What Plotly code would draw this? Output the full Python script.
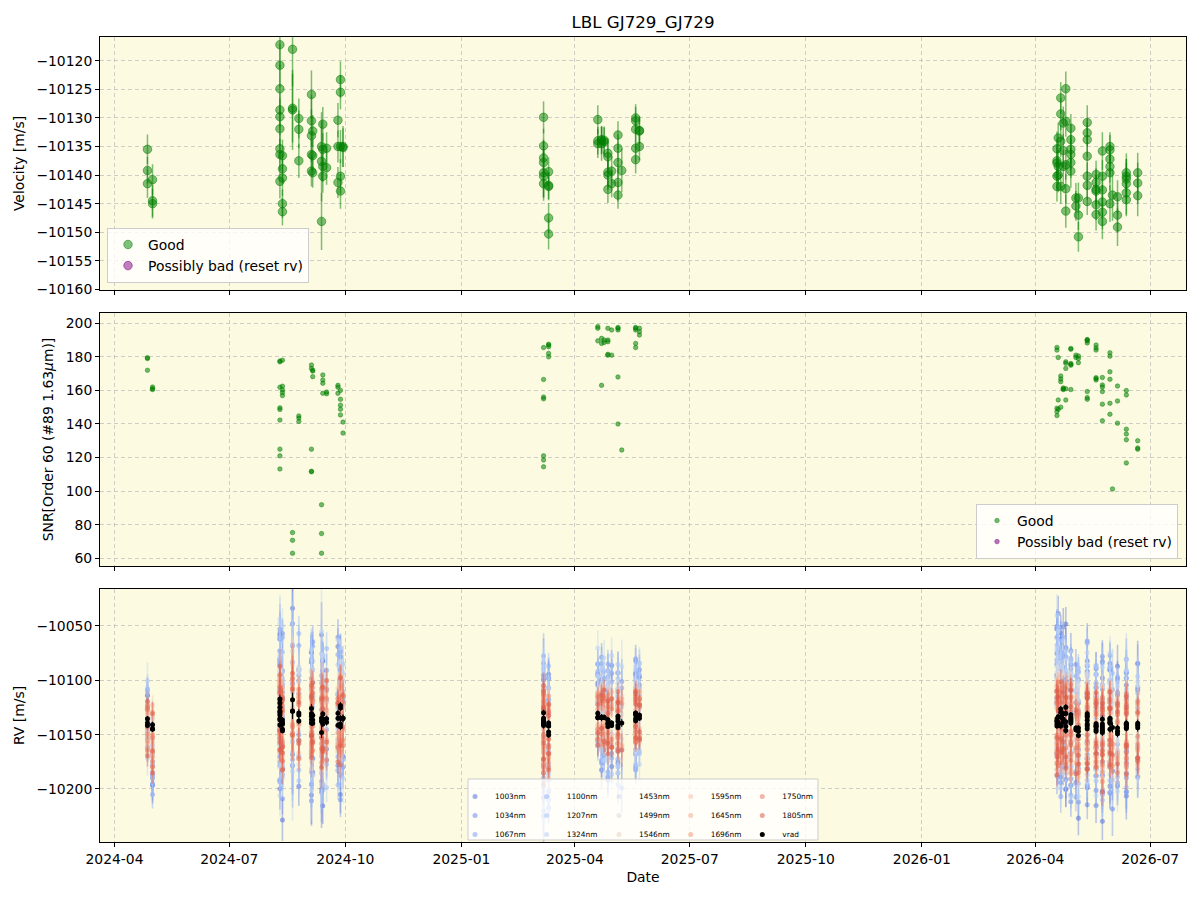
import plotly.graph_objects as go
from plotly.subplots import make_subplots

# ---------------- data ----------------
night_dates = ["2024-04-27", "2024-05-01",
               "2024-08-10", "2024-08-12", "2024-08-20", "2024-08-25", "2024-09-04", "2024-09-05",
               "2024-09-12", "2024-09-13", "2024-09-16", "2024-09-25", "2024-09-27", "2024-09-29",
               "2025-03-07", "2025-03-11",
               "2025-04-19", "2025-04-22", "2025-04-24", "2025-04-27", "2025-04-30", "2025-05-05",
               "2025-05-08", "2025-05-19", "2025-05-22",
               "2026-04-18", "2026-04-19", "2026-04-21", "2026-04-23", "2026-04-25", "2026-04-29",
               "2026-05-03", "2026-05-05", "2026-05-12", "2026-05-19", "2026-05-24", "2026-05-30",
               "2026-06-01", "2026-06-05", "2026-06-12", "2026-06-21"]
night_counts = [3, 3,
                9, 5, 3, 3, 5, 3, 3, 4, 2, 3, 5, 2,
                7, 5,
                3, 3, 2, 5, 2, 5, 1, 5, 3,
                5, 3, 4, 3, 5, 6, 2, 3, 7, 6, 6, 6, 1, 3, 6, 3]

velocity = [
    -10135.5, -10139.2, -10141.5,
    -10140.8, -10144.5, -10145.0,
    -10117.2, -10120.8, -10124.9, -10128.6, -10129.8, -10131.9, -10135.4, -10136.4, -10141.1,
    -10136.6, -10138.9, -10140.5, -10145.0, -10146.4,
    -10118.0, -10128.3, -10128.6,
    -10130.1, -10132.0, -10137.5,
    -10125.9, -10130.5, -10133.1, -10136.4, -10139.3,
    -10132.3, -10136.6, -10139.6,
    -10148.1, -10135.0, -10137.6,
    -10131.1, -10135.5, -10138.5, -10140.2,
    -10135.3, -10138.7,
    -10130.4, -10135.0, -10141.3,
    -10123.3, -10125.5, -10135.0, -10140.2, -10142.8,
    -10135.2, -10135.0,
    -10129.9, -10134.9, -10137.0, -10137.8, -10139.6, -10140.2, -10141.5,
    -10139.4, -10141.8, -10142.0, -10147.5, -10150.3,
    -10130.3, -10134.0, -10134.5,
    -10134.0, -10134.5, -10133.8,
    -10134.2, -10133.9,
    -10136.2, -10136.8, -10139.5, -10140.0, -10142.5,
    -10139.3, -10141.5,
    -10133.0, -10135.3, -10137.8, -10141.3, -10143.5,
    -10139.2,
    -10130.0, -10130.5, -10132.0, -10135.3, -10137.3,
    -10132.3, -10135.0, -10132.2,
    -10135.4, -10137.5, -10137.9, -10140.2, -10142.0,
    -10133.5, -10138.5, -10140.0,
    -10126.5, -10129.3, -10134.1, -10142.0,
    -10130.9, -10135.7, -10138.5,
    -10124.9, -10130.6, -10138.2, -10142.4, -10146.3,
    -10135.5, -10136.4, -10137.8, -10139.3, -10131.8, -10133.8,
    -10144.0, -10145.4,
    -10147.0, -10150.8, -10144.0,
    -10136.7, -10133.8, -10130.8, -10132.6, -10140.2, -10141.8, -10144.6,
    -10145.2, -10146.9, -10142.5, -10141.3, -10139.9, -10142.8,
    -10140.2, -10142.6, -10144.7, -10146.5, -10148.1, -10135.8,
    -10135.0, -10135.6, -10137.2, -10138.5, -10139.6, -10145.0,
    -10143.5,
    -10143.8, -10147.0, -10149.1,
    -10139.6, -10140.7, -10141.5, -10143.1, -10144.3, -10140.2,
    -10139.6, -10141.4, -10143.6]

velocity_err = [
    2.6, 2.4, 2.5,
    2.7, 2.8, 2.6,
    4.0, 3.8, 4.2, 3.0, 3.2, 3.0, 2.6, 2.7, 3.0,
    2.8, 2.6, 3.2, 2.5, 2.4,
    6.5, 6.0, 7.0,
    3.5, 3.3, 3.0,
    4.2, 4.5, 4.6, 2.6, 2.7,
    2.8, 2.7, 2.6,
    5.0, 6.0, 7.0,
    3.0, 2.8, 2.7, 2.9,
    2.8, 3.0,
    3.0, 2.8, 2.7,
    3.2, 3.0, 2.9, 3.0, 3.1,
    3.4, 3.6,
    2.8, 3.0, 3.0, 4.0, 4.2, 4.3, 2.5,
    2.5, 2.4, 2.4, 2.6, 2.7,
    2.5, 2.4, 2.5,
    2.4, 3.0, 2.4,
    2.5, 2.4,
    2.6, 2.5, 2.5, 2.6, 2.4,
    2.6, 2.4,
    2.4, 2.4, 2.8, 3.3, 2.4,
    3.8,
    2.4, 2.4, 2.5, 2.5, 2.4,
    2.4, 2.4, 2.5,
    3.0, 3.0, 3.1, 2.6, 2.6,
    2.7, 2.9, 3.0,
    2.8, 2.8, 2.8, 3.0,
    2.9, 2.9, 2.9,
    3.0, 2.7, 2.6, 2.6, 2.9,
    2.5, 2.7, 2.7, 2.9, 2.5, 2.7,
    2.6, 2.6,
    2.6, 2.6, 2.7,
    2.9, 3.0, 3.0, 2.4, 2.4, 2.5, 2.4,
    2.7, 2.8, 2.5, 2.5, 2.4, 2.8,
    2.8, 2.9, 2.9, 3.0, 3.1, 3.3,
    2.5, 2.6, 2.7, 2.8, 3.1, 3.2,
    4.5,
    2.9, 3.0, 3.3,
    3.4, 3.5, 3.6, 3.8, 2.9, 3.0,
    3.5, 3.6, 3.6]

snr_order60 = [
    179.5, 179.0, 172.0,
    162.0, 160.5, 161.0,
    125.0, 121.0, 113.2, 142.3, 149.6, 148.6, 177.5, 177.0, 161.9,
    160.3, 156.9, 158.7, 178.0, 162.5,
    75.3, 70.7, 63.0,
    144.8, 143.5, 141.5,
    125.0, 111.8, 111.5, 175.1, 173.1,
    171.5, 168.2, 172.0,
    91.9, 74.7, 63.0,
    169.2, 166.2, 164.2, 158.3,
    158.0, 159.0,
    163.0, 161.9, 158.3,
    160.0, 154.7, 151.2, 148.8, 145.4,
    141.1, 134.6,
    166.5, 156.0, 155.0, 121.0, 118.5, 114.5, 185.5,
    182.0, 187.0, 186.0, 180.0, 187.5,
    198.0, 197.0, 189.5,
    188.0, 163.0, 191.0,
    188.5, 190.0,
    181.0, 189.0, 190.0, 181.5, 197.0,
    181.0, 196.0,
    197.0, 196.0, 168.0, 140.0, 197.5,
    124.5,
    197.0, 196.0, 188.0, 185.5, 197.5,
    197.0, 195.0, 193.0,
    149.4, 147.4, 145.0, 185.6, 184.0,
    179.6, 154.3, 148.8,
    168.6, 166.8, 165.2, 150.0,
    160.9, 161.5, 160.5,
    154.3, 173.1, 176.1, 177.0, 161.0,
    185.0, 175.5, 175.0, 160.5, 184.5, 176.0,
    181.0, 179.6,
    180.5, 179.0, 176.5,
    159.3, 155.7, 154.7, 190.3, 190.0, 188.3, 189.5,
    167.6, 166.2, 184.0, 185.3, 187.0, 167.0,
    167.7, 163.2, 162.0, 159.3, 151.8, 141.9,
    182.4, 180.4, 171.1, 166.6, 152.3, 145.8,
    101.3,
    162.6, 153.7, 140.5,
    136.9, 134.0, 130.6, 116.8, 159.9, 157.3,
    130.0, 125.7, 125.0]

bands_nm = [1003, 1034, 1067, 1100, 1207, 1324, 1453, 1499, 1546, 1595, 1645, 1696, 1750, 1805]
band_err_scale = [6.0, 5.5, 5.0, 5.0, 4.5, 6.5, 4.5, 4.0, 3.5, 3.3, 3.3, 3.3, 3.5, 4.0]

# per-band RV offsets from vrad [m/s], one per observation
off_1003 = [22, -8, 15, -38, -52, -45,
            35, 62, -20, 48, -70, 15, -35, 80, -12, -45, 28, -88, 10, 55, 70, -40, 95, -25, 42, -60,
            18, -75, 50, -30, 65, -52, 22, 38, 90, -65, -15, 40, -80, 12, 58, -28, 30, -48, 66, -20,
            45, -10, -70, 25, 52, -35, 15,
            20, -45, 38, -70, 12, -85, 30, 45, -20, -60, 15, 52,
            28, -22, 40, 35, -48, 10, 18, -30, 45, -55, 22, -15, 30, -40, 55, -25, 12, -38, 48, 20,
            -60, 35, -12, 25, 42, -30, 15, 38, -20,
            60, 85, -30, 45, 20, 95, -40, 30, 70, 50, -55, 15, 80, -25, 40, 55, -70, 90, 20, -45,
            35, -60, 65, 10, -35, 48, -50, 25, -80, 30, -20, 45, -65, 20, -40, 58, -15, 30,
            -70, 40, -25, 52, -48, 15, -35, 60, -85, 28, -55, 38, -20, 45, -60, 18, 55, -30,
            -40, 30, -50, 62, -25, 48, -65, 20, 40, -45, 55, -30, 35]
off_1034 = [10, 25, -20, -55, -30, -42,
            -30, 48, 72, -15, 20, -60, 38, -42, 55, 12,
            -70, 25, 88, -35, 15, 60, -50, 30, -18, 42,
            -85, 22, 50, -28, 65, -40, 18, 75, -55, 8,
            35, -65, 45, -22, 58, -38, 20, 70, -48, 28,
            -15, 52, -75, 40, -30, 18, -45,
            -25, 40, -60, 15, 55, -80, -35, 22, -50, 35, -70, 10,
            45, -20, 30, -42, 18, 55, -35, 25, -15, 40,
            -50, 12, 35, -28, 48, -40, 20, 30, -55, 15,
            38, -25, 50, -32, 22, -45, 28, 10, 42,
            75, 40, -50, 90, 25, -35, 65, 15, -20, 55,
            -60, 80, 30, -45, 50, -75, 20, 42, -30, 68,
            -55, 35, -20, 50, -80, 25, -40, 60, -65, 18,
            45, -35, 70, -50, 22, -28, 55, -70, 30, -15,
            48, -60, 25, -38, 62, -45, 15, -55, 40, -25,
            35, -68, 20, 50, -40, 28, -75, 45, -20, 38,
            -50, 60, -30, 25, -58, 42, -22, 35, -45]
off_1067 = [-18, 30, 5, -48, -25, -60,
            55, -25, 40, -65, 18, 70, -40, 28, -12, -50,
            35, 80, -30, 15, -55, 45, -20, 62, -38, 25,
            -70, 50, -15, 38, -45, 20, 68, -32, 12, -58,
            42, -25, 55, -62, 30, -10, 48, -40, 22, 65,
            -28, 35, -52, 18, 40, -35, 25,
            30, -55, 18, -40, 62, -25, 45, -70, 12, -35, 50, -15,
            -30, 42, 15, -25, 50, -40, 22, 35, -18, 28,
            -45, 55, -12, 38, -30, 20, -50, 45, 10, -22,
            32, -38, 48, -15, 25, -42, 36, -20, 18,
            50, -30, 85, 20, 60, -45, 35, 70, -25, 40,
            15, -65, 55, -35, 78, 25, -50, 30, -20, 45,
            -70, 22, 58, -40, 35, -15, 48, -62, 28, -30,
            52, -45, 20, 65, -25, 38, -55, 18, 42, -35,
            -20, 55, -48, 30, -65, 25, 40, -30, 15, -52,
            45, -22, 60, -40, 28, -58, 35, -15, 50, -45,
            22, -35, 48, -60, 30, -25, 55, -40, 18]
off_1100 = [28, -12, 18, -35, -50, -22,
            -42, 60, 20, -30, 45, -15, 52, -55, 30, -20,
            65, -38, 12, 48, -60, 25, -28, 40, 75, -45,
            18, -65, 35, 55, -22, 42, -50, 15, 30, -35,
            -48, 22, 58, -18, 38, -42, 68, -25, 10, -55,
            32, -20, 45, -30, 20, 50, -38,
            -35, 25, 48, -60, 20, -45, 35, -22, 55, -75, 28, -18,
            35, -15, 50, -28, 22, -40, 42, 18, -35, 30,
            12, -48, 38, -20, 55, -30, 25, -42, 15, 45,
            -25, 32, -50, 20, 40, -18, -35, 28, 48,
            40, 70, -25, 55, -40, 82, 30, -15, 48, -55,
            25, 65, -35, 20, 50, -60, 38, -22, 72, -45,
            15, -30, 45, -58, 28, 52, -20, 35, -48, 62,
            -38, 22, 40, -65, 30, -18, 55, -42, 25, 12,
            -50, 35, -28, 48, -15, 58, -40, 20, -62, 32,
            -25, 45, -55, 18, 38, -30, 50, -45, 25, -20,
            42, -58, 30, -35, 52, -22, 28, -48, 35]
off_1207 = [15, -22, 30, -28, -40, -15,
            38, -20, 52, 10, -45, 28, -32, 60, -15, 22,
            -50, 35, -12, 45, 70, -38, 18, -25, 40, -55,
            25, 58, -30, 12, -42, 50, -18, 32, -48, 20,
            62, -35, 15, 40, -22, 28, -60, 45, -10, 30,
            -40, 55, -25, 18, -32, 42, 12,
            22, -38, 45, -15, -52, 30, 18, -40, 35, -25, 50, -60,
            -20, 38, 12, -30, 45, -22, 28, -40, 20, 35,
            -15, 42, -28, 18, -45, 30, 50, -25, 22, -35,
            15, 40, -18, 32, -42, 25, 10, -30, 38,
            55, -20, 65, 30, -35, 48, 75, -15, 40, -28,
            60, 20, -45, 35, -12, 52, -38, 28, 45, -30,
            -55, 30, 18, -40, 48, -22, 35, -50, 20, 58,
            -25, 42, -38, 15, 30, -52, 45, -18, 25, -35,
            40, -28, 52, -45, 22, -15, 38, -58, 30, 12,
            -40, 48, -22, 35, -30, 20, -48, 42, -18, 28,
            -35, 50, -25, 18, -42, 32, -20, 45, -30]
off_1324 = [35, 5, -30, -20, -45, 10,
            70, -35, 25, 85, -50, 40, -20, 55, -65, 30,
            -28, 48, 95, -40, 20, 62, -55, 35, -15, 50,
            -75, 28, 42, -35, 68, -22, 15, -48, 38, 80,
            -30, 55, -60, 25, 45, -38, 20, -52, 72, -18,
            40, -45, 30, 58, -25, 35, -55,
            48, -30, 20, -65, 35, -90, 55, -20, 28, -45, 40, -35,
            60, -25, 38, 45, -30, 20, 55, -40, 28, -18,
            48, -35, 25, 62, -20, 40, -50, 30, 15, -28,
            52, -38, 22, 45, -15, 35, -45, 50, 20,
            95, 45, -30, 70, 25, -50, 60, 85, -20, 40,
            -65, 55, 30, -40, 75, 20, -55, 48, -25, 65,
            -35, 42, -70, 28, 58, -45, 35, 15, -60, 50,
            -28, 62, -42, 30, -18, 55, -50, 38, -35, 22,
            48, -65, 30, -20, 52, -40, 25, -58, 42, -15,
            60, -30, 35, -48, 20, 45, -25, 38, -55, 28,
            -40, 50, -20, 62, -35, 25, -45, 40, -28]
off_1453 = [12, -8, 20, -15, -25, 5,
            25, -18, 35, -10, 15, -30, 22, -5, 40, -22,
            8, -35, 28, -15, 45, -25, 18, -8, 30, -40,
            12, 38, -20, 5, -28, 32, -12, 20, -35, 25,
            -15, 42, -22, 10, -30, 18, 35, -18, 8, -25,
            28, -10, 22, -32, 15, -20, 30,
            -20, 28, -35, 15, -10, 32, -25, 18, -40, 10, 25, -15,
            18, -12, 25, -20, 10, 30, -15, 22, -25, 8,
            15, -28, 20, -10, 32, -18, 12, -22, 28, -8,
            -15, 25, -20, 18, -30, 10, 22, -12, 15,
            35, -20, 50, 15, -30, 28, -12, 40, -25, 20,
            -38, 30, 10, -22, 45, -15, 25, -35, 18, -8,
            32, -28, 12, -40, 22, -18, 35, -10, 28, -32,
            15, -25, 40, -20, 8, -35, 30, -15, 22, -28,
            18, -40, 25, -12, 35, -22, 10, -30, 28, -18,
            20, -35, 15, -25, 32, -10, 22, -38, 18, -15,
            28, -22, 12, -30, 25, -18, 35, -12, 20]
off_1499 = [-10, 15, -22, 8, -18, -30,
            -15, 30, -25, 18, -8, 35, -30, 12, -20, 28,
            -38, 10, 22, -15, 32, -28, 5, 40, -22, 15,
            -32, 25, -10, 20, -42, 18, 30, -18, 8, -25,
            35, -12, 22, -35, 15, -20, 28, -8, -30, 20,
            -18, 32, -25, 12, -15, 38, -22,
            15, -30, 22, -45, 8, -20, 30, -35, 12, -25, 18, -10,
            -12, 20, -18, 28, -8, 15, -25, 22, -15, 30,
            -20, 10, -28, 18, -10, 25, -22, 12, -18, 20,
            8, -25, 15, -12, 28, -20, 10, -15, 22,
            -20, 40, -15, 30, -35, 22, 45, -25, 15, -40,
            28, -10, 35, -30, 18, -22, 8, -45, 25, -15,
            38, -28, 20, -12, 30, -35, 15, -20, 42, -25,
            10, -38, 28, -18, 22, -30, 15, -42, 32, -10,
            25, -28, 18, -35, 12, -20, 30, -15, 22, -40,
            15, -25, 35, -18, 10, -30, 25, -12, 20, -35,
            18, -22, 30, -15, 12, -28, 22, -38, 15]
off_1546 = [5, -20, 12, -28, 10, -15,
            20, -12, 28, -25, 10, -18, 32, -8, 15, -30,
            25, -15, 8, -22, 35, -10, 18, -28, 22, -5,
            -20, 30, -12, 15, -35, 20, -18, 28, -10, 12,
            -25, 18, -30, 22, -8, 35, -15, 10, -22, 28,
            -12, 20, -28, 15, -18, 25, -10,
            -25, 12, -38, 20, -15, 8, -30, 25, -48, 15, -20, 10,
            15, -8, 22, -15, 12, -20, 28, -10, 18, -25,
            10, -18, 25, -12, 20, -8, 15, -22, 12, -15,
            25, -10, 18, -20, 8, -12, 22, -18, 12,
            25, -15, 35, -28, 18, -10, 30, -35, 12, -20,
            -30, 22, -15, 40, -25, 10, -38, 28, -12, 20,
            -22, 15, -45, 25, -18, 32, -8, 20, -30, 15,
            -40, 22, -15, 28, -25, 12, -20, 35, -18, 8,
            -28, 20, -35, 15, -12, 25, -45, 18, -22, 30,
            -15, 10, -32, 22, -25, 18, -10, 28, -20, 12,
            -30, 20, -15, 25, -38, 15, -22, 18, -12]
off_1595 = [-15, 8, -25, 18, -12, -35,
            -22, 18, -10, 30, -28, 12, -15, 25, -32, 8,
            -18, 28, -25, 15, -8, 32, -20, 10, -35, 22,
            15, -12, 25, -30, 8, -22, 18, -15, 30, -10,
            -28, 20, -12, 25, -35, 15, -20, 8, 28, -18,
            22, -30, 12, -15, 25, -22, 10,
            10, -28, 18, -35, -12, 22, -42, 15, -20, 8, -30, 12,
            -10, 18, -20, 12, -15, 25, -8, 15, -22, 10,
            -18, 20, -12, 28, -15, 8, -25, 18, -10, 15,
            -20, 12, -8, 22, -15, 10, -25, 18, -12,
            -25, 30, -15, 20, -40, 12, -28, 35, -18, 10,
            -35, 25, -12, 18, -45, 22, -20, 8, -30, 28,
            -15, 12, -38, 20, -25, 15, -10, 30, -42, 18,
            -22, 10, -30, 25, -15, 20, -35, 12, -28, 15,
            -18, 28, -40, 10, -25, 22, -12, 18, -32, 15,
            -20, 25, -15, 8, -38, 20, -28, 12, -22, 30,
            -18, 10, -35, 22, -15, 18, -25, 12, -30]
off_1645 = [8, -18, 15, -30, -8, -22,
            15, -25, 20, -12, 28, -18, 10, -30, 22, -8,
            32, -15, 18, -28, 12, -20, 25, -10, 15, -35,
            20, -12, 28, -22, 10, -18, 30, -25, 15, -8,
            22, -32, 12, -15, 25, -20, 8, -28, 18, -12,
            28, -18, 15, -25, 20, -10, 12,
            -15, 20, -30, 10, -22, 15, -38, 25, -12, 18, -28, 8,
            12, -15, 20, -10, 18, -22, 8, 15, -18, 22,
            -12, 25, -8, 15, -20, 12, -15, 20, -10, 18,
            -22, 10, 15, -12, 20, -18, 8, -15, 22,
            -18, 25, -30, 15, -22, 32, -12, 20, -40, 18,
            -25, 12, -15, 28, -35, 10, -20, 22, -28, 15,
            -12, 30, -45, 18, -22, 10, -32, 25, -15, 20,
            -38, 12, -25, 18, -10, 28, -30, 15, -22, 8,
            -35, 20, -15, 25, -28, 12, -40, 18, -20, 10,
            -25, 22, -12, 30, -35, 15, -18, 20, -28, 12,
            -22, 15, -30, 18, -12, 25, -38, 10, -20]
off_1696 = [-20, 12, -8, -25, 15, -30,
            -28, 15, 25, -20, 8, -32, 18, -12, 30, -25,
            12, -18, 22, -35, 10, 28, -22, 15, -8, 25,
            -30, 18, -15, 32, -20, 12, -28, 22, -10, 15,
            -38, 25, -12, 20, -25, 8, 30, -18, 12, -22,
            18, -30, 10, -15, 28, -20, 15,
            18, -25, 10, -40, 22, -15, 28, -32, 12, -20, 25, -18,
            -15, 22, -10, 18, -25, 12, -8, 20, -18, 15,
            -22, 10, 18, -15, 25, -12, 8, -20, 15, -10,
            22, -18, 12, -25, 18, -8, 15, -20, 10,
            -30, 18, -22, 35, -15, 25, -40, 12, -28, 20,
            -18, 30, -35, 15, -25, 22, -45, 10, -20, 28,
            -32, 15, -12, 25, -38, 18, -22, 12, -30, 20,
            -15, 28, -42, 15, -25, 10, -35, 22, -18, 30,
            -28, 12, -20, 25, -38, 15, -12, 20, -45, 18,
            -30, 10, -22, 28, -15, 20, -35, 12, -25, 18,
            -40, 22, -18, 15, -28, 10, -32, 20, -15]
off_1750 = [10, -25, 18, -12, -35, -5,
            22, -30, 12, -18, 35, -22, 8, -28, 20, -10,
            -35, 25, -15, 18, -25, 30, -12, 22, -40, 15,
            8, -20, 28, -32, 15, -10, 25, -18, 12, -28,
            30, -15, 20, -25, 10, -38, 22, -12, 18, -20,
            25, -30, 12, -18, 8, -25, 20,
            -22, 15, -35, 25, -10, -45, 18, -28, 12, -18, 20, -30,
            15, -20, 8, -15, 22, -10, 18, -25, 12, -8,
            20, -18, 10, -22, 15, -12, 25, -15, 8, -20,
            18, -10, 12, -25, 20, -15, 10, -18, 15,
            -15, 28, -38, 20, -25, 12, -32, 25, -18, 15,
            -42, 22, -12, 30, -28, 18, -20, 10, -35, 25,
            -15, 20, -48, 12, -25, 30, -18, 15, -38, 22,
            -10, 25, -30, 18, -22, 12, -40, 20, -15, 28,
            -25, 10, -35, 22, -18, 15, -30, 25, -12, 20,
            -45, 18, -22, 12, -28, 25, -15, 20, -38, 10,
            -20, 28, -25, 15, -32, 18, -12, 22, -28]
off_1805 = [-8, 20, -28, 10, -20, -40,
            30, -20, 18, -35, 12, -25, 25, -10, 15, -30,
            20, -42, 28, -15, 10, -22, 35, -28, 12, -18,
            -25, 15, -38, 22, -12, 30, -20, 8, -32, 18,
            -15, 25, -30, 12, -22, 35, -18, 10, -40, 20,
            -12, 28, -25, 15, -35, 22, -8,
            25, -38, 12, -20, 30, -55, 15, -28, 20, -12, -35, 18,
            -18, 12, -25, 20, -10, 15, -22, 25, -12, 18,
            -28, 10, -15, 22, -20, 12, -30, 18, -8, 15,
            -25, 20, -12, 10, -18, 25, -15, 12, -22,
            -35, 22, -15, 30, -45, 18, -25, 12, -40, 28,
            -20, 15, -32, 25, -18, 10, -50, 22, -28, 18,
            -38, 12, -22, 30, -15, 25, -42, 18, -30, 10,
            -25, 20, -48, 15, -18, 28, -35, 12, -22, 25,
            -15, 30, -40, 18, -28, 10, -20, 22, -55, 15,
            -32, 25, -18, 12, -38, 20, -25, 15, -30, 28,
            -22, 10, -45, 18, -15, 25, -35, 12, -28]

band_offsets = [off_1003, off_1034, off_1067, off_1100, off_1207, off_1324, off_1453,
                off_1499, off_1546, off_1595, off_1645, off_1696, off_1750, off_1805]

x_tick_vals = ["2024-04-01", "2024-07-01", "2024-10-01", "2025-01-01", "2025-04-01",
               "2025-07-01", "2025-10-01", "2026-01-01", "2026-04-01", "2026-07-01"]
x_tick_text = ["2024-04", "2024-07", "2024-10", "2025-01", "2025-04",
               "2025-07", "2025-10", "2026-01", "2026-04", "2026-07"]
vel_ticks = [-10160, -10155, -10150, -10145, -10140, -10135, -10130, -10125, -10120]
snr_ticks = [60, 80, 100, 120, 140, 160, 180, 200]
rv_ticks = [-10200, -10150, -10100, -10050]

# ---------------- styling helpers ----------------
FONT = "DejaVu Sans"
W, H = 1200, 900
L, R, T, B = 100, 14, 37, 58
PW, PH = W - L - R, H - T - B


def px_x(p):
    return (p - L) / PW


def px_y(p):
    return (H - B - p) / PH


def minus(v):
    return ("\u2212" + str(abs(v))) if v < 0 else str(v)


anchors = [(0.0, (59, 76, 192)), (0.125, (98, 130, 234)), (0.25, (141, 176, 254)),
           (0.375, (184, 208, 249)), (0.5, (221, 221, 221)), (0.625, (245, 196, 173)),
           (0.75, (244, 154, 123)), (0.875, (222, 96, 77)), (1.0, (180, 4, 38))]


def coolwarm(t, a):
    for (t0, c0), (t1, c1) in zip(anchors[:-1], anchors[1:]):
        if t <= t1:
            f = (t - t0) / (t1 - t0)
            c = [round(c0[k] + f * (c1[k] - c0[k])) for k in range(3)]
            return f"rgba({c[0]},{c[1]},{c[2]},{a})"
    return f"rgba(180,4,38,{a})"


obs_dates = [d + " 03:00" for d, c in zip(night_dates, night_counts) for _ in range(c)]
n_obs = len(obs_dates)

fig = make_subplots(rows=3, cols=1, shared_xaxes=True)

GREEN = "rgba(0,128,0,0.5)"
PURPLE = "rgba(128,0,128,0.5)"

# ---- top: velocity ----
fig.add_trace(go.Scatter(
    x=obs_dates, y=velocity, mode="markers", name="Good", legend="legend",
    marker=dict(color=GREEN, size=8.5, line=dict(color=GREEN, width=1)),
    error_y=dict(type="data", array=velocity_err, color=GREEN, thickness=1.5, width=0)),
    row=1, col=1)
fig.add_trace(go.Scatter(
    x=[None], y=[None], mode="markers", name="Possibly bad (reset rv)", legend="legend",
    marker=dict(color=PURPLE, size=8.5, line=dict(color=PURPLE, width=1))),
    row=1, col=1)

# ---- middle: SNR ----
fig.add_trace(go.Scatter(
    x=obs_dates, y=snr_order60, mode="markers", name="Good", legend="legend2",
    marker=dict(color="rgba(0,128,0,0.55)", size=4.5, line=dict(color="rgba(0,128,0,0.55)", width=0.8))),
    row=2, col=1)
fig.add_trace(go.Scatter(
    x=[None], y=[None], mode="markers", name="Possibly bad (reset rv)", legend="legend2",
    marker=dict(color="rgba(128,0,128,0.55)", size=4.5, line=dict(color="rgba(128,0,128,0.55)", width=0.8))),
    row=2, col=1)

# ---- bottom: per-band RV ----
legend_cols = ["legend3", "legend3", "legend3", "legend4", "legend4", "legend4",
               "legend5", "legend5", "legend5", "legend6", "legend6", "legend6",
               "legend7", "legend7"]
for b, (nm, offs) in enumerate(zip(bands_nm, band_offsets)):
    n = min(n_obs, len(offs))
    t = 0.08 + 0.8 * b / (len(bands_nm) - 1)
    mcol = coolwarm(t, 0.55)
    ecol = coolwarm(t, 0.4)
    fig.add_trace(go.Scatter(
        x=obs_dates[:n], y=[velocity[i] + offs[i] for i in range(n)],
        mode="markers", name=f"{nm}nm", legend=legend_cols[b],
        marker=dict(color=mcol, size=5),
        error_y=dict(type="data", array=[band_err_scale[b] * velocity_err[i] for i in range(n)],
                     color=ecol, thickness=1.6, width=0)),
        row=3, col=1)
fig.add_trace(go.Scatter(
    x=obs_dates, y=velocity, mode="markers", name="vrad", legend="legend7",
    marker=dict(color="black", size=5),
    error_y=dict(type="data", array=velocity_err, color="black", thickness=1, width=0)),
    row=3, col=1)

# ---------------- axes ----------------
axis_common = dict(showline=True, mirror=True, linecolor="black", linewidth=1,
                   ticks="outside", ticklen=4, tickwidth=1, tickcolor="black",
                   showgrid=True, gridcolor="rgba(176,176,176,0.6)", gridwidth=0.8, griddash="4px,3px",
                   zeroline=False, tickfont=dict(family=FONT, size=13.9, color="black"))

x_range = ["2024-03-20 12:00", "2026-07-29 10:00"]
for i in (1, 2, 3):
    fig.update_xaxes(axis_common, row=i, col=1)
    fig.update_xaxes(range=x_range, tickvals=x_tick_vals, ticktext=x_tick_text,
                     showticklabels=(i == 3), row=i, col=1)
fig.update_xaxes(title=dict(text="Date", font=dict(family=FONT, size=13.9, color="black"), standoff=6),
                 row=3, col=1)

ytitle_font = dict(family=FONT, size=13.9, color="black")
fig.update_yaxes(axis_common, row=1, col=1)
fig.update_yaxes(range=[-10160.1, -10115.85], tickvals=vel_ticks, ticktext=[minus(v) for v in vel_ticks],
                 title=dict(text="Velocity [m/s]", font=ytitle_font, standoff=8),
                 domain=[px_y(290), px_y(37)], row=1, col=1)
fig.update_yaxes(axis_common, row=2, col=1)
fig.update_yaxes(range=[55.4, 206.1], tickvals=snr_ticks, ticktext=[minus(v) for v in snr_ticks],
                 title=dict(text="SNR[Order 60 (#89 1.63<i>μ</i>m)]", font=ytitle_font, standoff=8),
                 domain=[px_y(566), px_y(313)], row=2, col=1)
fig.update_yaxes(axis_common, row=3, col=1)
fig.update_yaxes(range=[-10248.8, -10016], tickvals=rv_ticks, ticktext=[minus(v) for v in rv_ticks],
                 title=dict(text="RV [m/s]", font=ytitle_font, standoff=8),
                 domain=[px_y(842), px_y(589)], row=3, col=1)

# ---------------- legends ----------------
small_leg = dict(bgcolor="rgba(0,0,0,0)", borderwidth=0, font=dict(family=FONT, size=7.4, color="black"),
                 orientation="v", xanchor="left", yanchor="top", tracegroupgap=0, itemwidth=30)
text_starts = [495, 566.7, 639, 710.7, 782.3]
legend_y = px_y(782)

fig.update_layout(
    width=W, height=H,
    margin=dict(l=L, r=R, t=T, b=B),
    paper_bgcolor="white",
    plot_bgcolor="#fcfae1",
    font=dict(family=FONT, color="black"),
    title=dict(text="LBL GJ729_GJ729", x=0.5, xref="paper", xanchor="center",
               y=1 - 22 / H, yref="container", yanchor="middle",
               font=dict(family=FONT, size=16.7, color="black")),
    legend=dict(x=px_x(107), y=px_y(283), xanchor="left", yanchor="bottom",
                bgcolor="rgba(255,255,255,0.8)", bordercolor="#cccccc", borderwidth=1,
                font=dict(family=FONT, size=13.9, color="black")),
    legend2=dict(x=px_x(1178), y=px_y(559), xanchor="right", yanchor="bottom",
                 bgcolor="rgba(255,255,255,0.8)", bordercolor="#cccccc", borderwidth=1,
                 font=dict(family=FONT, size=13.9, color="black")),
    legend3=dict(small_leg, x=px_x(text_starts[0] - 40), y=legend_y),
    legend4=dict(small_leg, x=px_x(text_starts[1] - 40), y=legend_y),
    legend5=dict(small_leg, x=px_x(text_starts[2] - 40), y=legend_y),
    legend6=dict(small_leg, x=px_x(text_starts[3] - 40), y=legend_y),
    legend7=dict(small_leg, x=px_x(text_starts[4] - 40), y=legend_y),
    shapes=[dict(type="rect", xref="paper", yref="paper", layer="above",
                 x0=px_x(468), x1=px_x(818), y0=px_y(840), y1=px_y(779),
                 fillcolor="rgba(255,255,255,0.8)", line=dict(color="#cccccc", width=1))],
    showlegend=True,
)

fig.write_html("out.html", config={"displayModeBar": False})
